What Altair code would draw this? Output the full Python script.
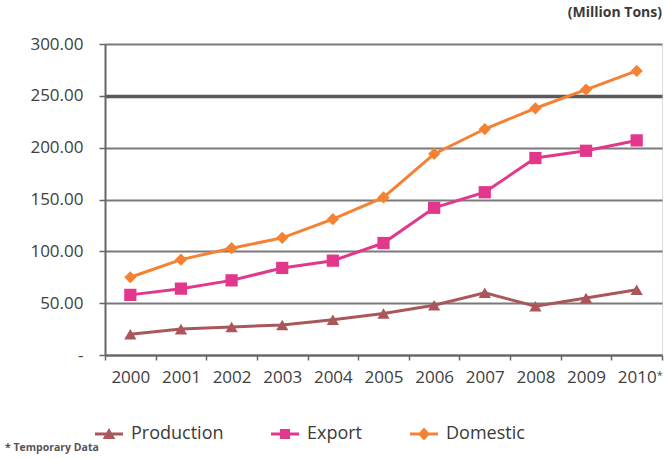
import altair as alt
import pandas as pd

years = ["2000", "2001", "2002", "2003", "2004", "2005", "2006", "2007", "2008", "2009", "2010"]
production = [20, 25, 27, 29, 34, 40, 48, 60, 47, 55, 63]
export = [58, 64, 72, 84, 91, 108, 142, 157, 190, 197, 207]
domestic = [75, 92, 103, 113, 131, 152, 194, 218, 238, 256, 274]
series_names = ["Production", "Export", "Domestic"]
series_colors = ["#A9575A", "#E2388C", "#F58232"]
series_shapes = ["triangle-up", "square", "diamond"]
y_ticks = [0, 50, 100, 150, 200, 250, 300]

# legend glyphs: a short line with the marker on it (unit square [-1, 1])
bar = "M-1,-0.11 L1,-0.11 L1,0.11 L-1,0.11 Z "
legend_shapes = [
    bar + "M-0.45,0.36 L0,-0.42 L0.45,0.36 Z",
    bar + "M-0.36,-0.36 L0.36,-0.36 L0.36,0.36 L-0.36,0.36 Z",
    bar + "M0,-0.46 L0.42,0 L0,0.46 L-0.42,0 Z",
]

rows = []
for name, vals in zip(series_names, [production, export, domestic]):
    for yr, v in zip(years, vals):
        rows.append({"year": yr, "series": name, "value": v})
df = pd.DataFrame(rows)

FONT = "Open Sans"
W, H = 557, 311

x_enc = alt.X(
    "year:N",
    sort=years,
    scale=alt.Scale(paddingInner=0, paddingOuter=0),
    axis=alt.Axis(
        title=None, labelAngle=0, labelFontSize=17, labelColor="#404040", labelFont=FONT,
        tickBand="extent", tickSize=5, tickColor="#666666", tickWidth=1.5,
        domainColor="#666666", domainWidth=2, labelPadding=9, grid=False,
    ),
)
y_enc = alt.Y(
    "value:Q",
    scale=alt.Scale(domain=[0, 300], nice=False),
    axis=alt.Axis(
        title=None, values=y_ticks,
        labelExpr="datum.value == 0 ? '-' : format(datum.value, '.2f')",
        labelFontSize=17, labelColor="#404040", labelFont=FONT, labelPadding=16,
        tickSize=6, tickColor="#666666", tickWidth=1.5,
        domainColor="#666666", domainWidth=2,
        grid=True,
        gridColor={"condition": {"test": "datum.value === 250", "value": "#5a5a5a"}, "value": "#7a7a7a"},
        gridWidth={"condition": {"test": "datum.value === 250", "value": 3.5}, "value": 2},
    ),
)

color_scale = alt.Scale(domain=series_names, range=series_colors)

line = alt.Chart(df).mark_line(strokeWidth=3).encode(
    x=x_enc, y=y_enc,
    color=alt.Color("series:N", scale=color_scale, legend=None),
)

points = alt.Chart(df).mark_point(filled=True, size=150, opacity=1).encode(
    x=x_enc, y=y_enc,
    color=alt.Color("series:N", scale=color_scale, legend=None),
    shape=alt.Shape("series:N", scale=alt.Scale(domain=series_names, range=series_shapes), legend=None),
)

key_legend = alt.Legend(
    title=None, orient="none", direction="horizontal", labelFont=FONT, labelFontSize=18,
    labelColor="#3a3a3a", columnPadding=47, padding=0, legendX=-10, legendY=376,
    symbolSize=784, symbolStrokeWidth=0, symbolOpacity=1, labelOffset=8,
)
key = alt.Chart(df).mark_point(filled=True, size=0, opacity=0).encode(
    x=x_enc, y=y_enc,
    fill=alt.Fill("series:N", scale=color_scale, legend=key_legend),
    shape=alt.Shape("series:N", scale=alt.Scale(domain=series_names, range=legend_shapes), legend=key_legend),
)

unit_df = pd.DataFrame({"year": ["2010"], "txt": ["*"], "top": ["(Million Tons)"], "note": ["* Temporary Data"]})

asterisk = alt.Chart(unit_df).mark_text(fontSize=10, font=FONT, color="#404040", dx=23).encode(
    x=alt.X("year:N", sort=years, scale=alt.Scale(paddingInner=0, paddingOuter=0)),
    y=alt.value(332), text="txt:N",
)
units = alt.Chart(unit_df).mark_text(fontSize=14, font=FONT, fontWeight="bold", color="#3a3a3a",
                                      align="right", baseline="middle").encode(
    x=alt.value(W), y=alt.value(-31), text="top:N",
)
note = alt.Chart(unit_df).mark_text(fontSize=10.5, font=FONT, fontWeight="bold", color="#555555",
                                     align="left", baseline="middle").encode(
    x=alt.value(-100), y=alt.value(404), text="note:N",
)

chart = alt.layer(line, points, key, asterisk, units, note).resolve_scale(
    shape="independent", fill="independent"
).properties(
    width=W, height=H,
    autosize=alt.AutoSizeParams(type="none"),
    padding={"left": 105, "top": 44, "right": 4, "bottom": 104},
).configure_view(stroke=None).configure(background="white")

chart.save("out.html", embed_options={"renderer": "svg", "actions": False})
